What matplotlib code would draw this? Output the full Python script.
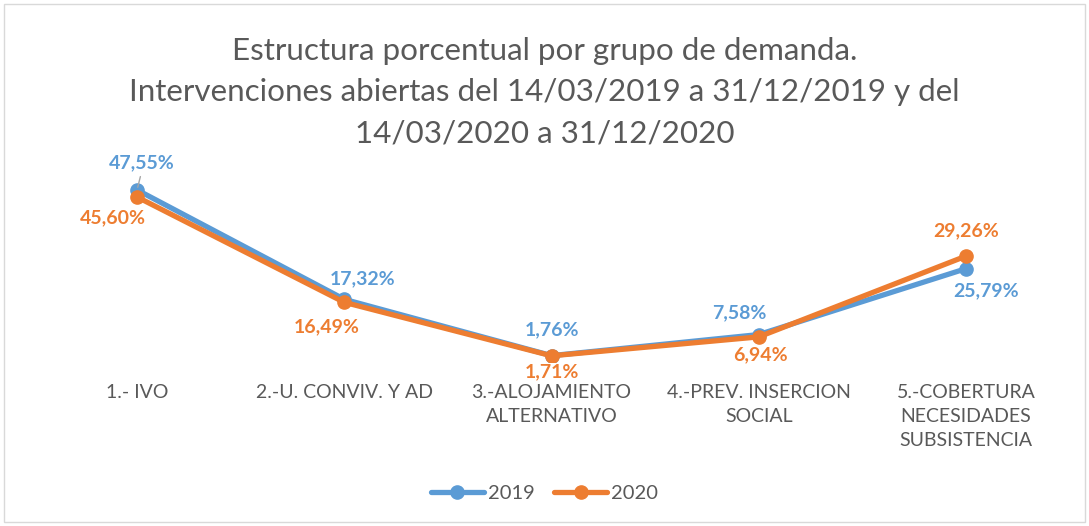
import matplotlib.pyplot as plt
from matplotlib.patches import Rectangle

categories = ["1.- IVO", "2.-U. CONVIV. Y AD", "3.-ALOJAMIENTO\nALTERNATIVO",
              "4.-PREV. INSERCION\nSOCIAL", "5.-COBERTURA\nNECESIDADES\nSUBSISTENCIA"]
vals_2019 = [47.55, 17.32, 1.76, 7.58, 25.79]
vals_2020 = [45.60, 16.49, 1.71, 6.94, 29.26]

blue = "#5B9BD5"
orange = "#ED7D31"
gray = "#595959"
plt.rcParams['font.family'] = ['Lato', 'DejaVu Sans']

fig = plt.figure(figsize=(10.89, 5.26), dpi=100)
ax = fig.add_axes([0.0307, 0.3118, 0.9515, 0.344])
x = list(range(len(categories)))

ax.plot(x, vals_2019, color=blue, lw=3.8, marker='o', ms=9.5, label="2019", solid_capstyle='round')
ax.plot(x, vals_2020, color=orange, lw=3.8, marker='o', ms=9.5, label="2020", solid_capstyle='round')

# label offsets in pixels -> points (dpi 100)
off19 = [(5, 27), (18, 21), (0, 26), (-19, 22), (20, -22)]
off20 = [(-24, -21), (-18, -24), (0, -16), (2, -18), (0, 25)]
k = 72 / 100
for i, v in enumerate(vals_2019):
    dx, dy = off19[i]
    ax.annotate(f"{v:.2f}%".replace(".", ","), (i, v), xytext=(dx * k, dy * k),
                textcoords="offset points", ha="center", va="center",
                color=blue, fontsize=14, fontweight="bold")
for i, v in enumerate(vals_2020):
    dx, dy = off20[i]
    ax.annotate(f"{v:.2f}%".replace(".", ","), (i, v), xytext=(dx * k, dy * k),
                textcoords="offset points", ha="center", va="center",
                color=orange, fontsize=14, fontweight="bold", zorder=5)
# leader line for first blue label
ax.annotate("", (0, vals_2019[0]), xytext=(4 * k, 16 * k), textcoords="offset points",
            arrowprops=dict(arrowstyle="-", color="#A6A6A6", lw=1))

ax.set_xlim(-0.5, len(categories) - 0.5)
ax.set_ylim(0, 50)
ax.set_yticks([])
ax.set_xticks(x)
ax.set_xticklabels(categories, color=gray, fontsize=14, linespacing=1.5)
ax.tick_params(axis='x', length=0, pad=16)
for s in ax.spines.values():
    s.set_visible(False)

fig.text(0.5, 0.825, "Estructura porcentual por grupo de demanda.\n"
         "Intervenciones abiertas del 14/03/2019 a 31/12/2019 y del\n"
         "14/03/2020 a 31/12/2020", ha="center", va="center",
         fontsize=22.6, color=gray, linespacing=1.58)

fig.legend(loc="center", bbox_to_anchor=(0.5, 0.062), ncol=2, frameon=False,
           fontsize=14.5, labelcolor=gray, handlelength=2.6, handletextpad=0.2,
           columnspacing=1.0)

fig.patches.append(Rectangle((0.004, 0.008), 0.992, 0.984, transform=fig.transFigure,
                             fill=False, edgecolor="#D9D9D9", lw=1))

fig.savefig("out.png", dpi=100)
